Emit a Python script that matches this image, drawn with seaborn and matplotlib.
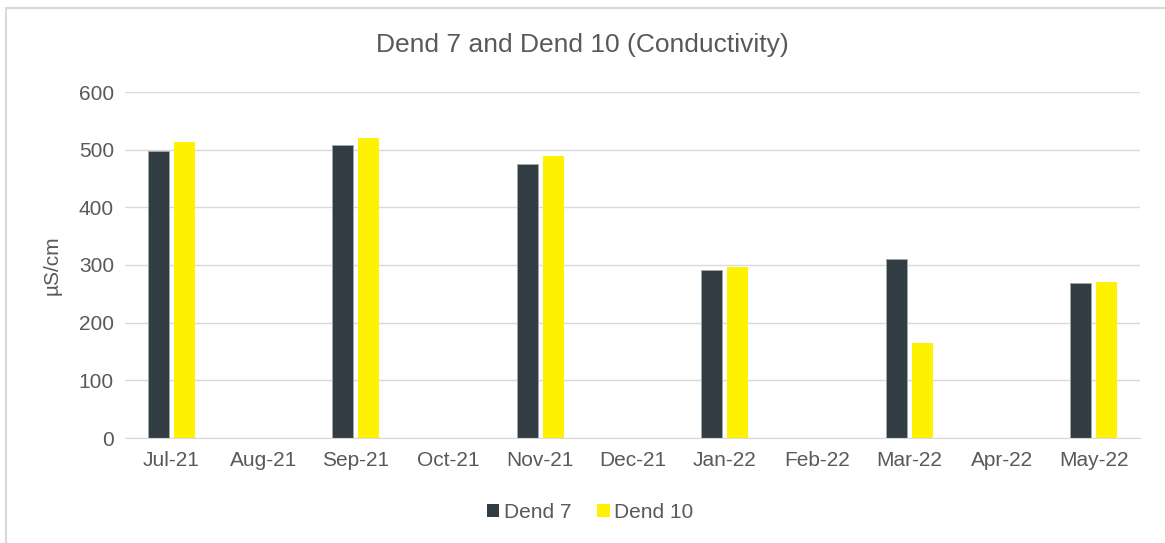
import numpy as np
import pandas as pd
import seaborn as sns
import matplotlib.pyplot as plt
from matplotlib.patches import Rectangle

# datos (NaN = sin medicion)
meses = ["Jul-21", "Aug-21", "Sep-21", "Oct-21", "Nov-21", "Dec-21",
         "Jan-22", "Feb-22", "Mar-22", "Apr-22", "May-22"]
dend7 = [498, np.nan, 508, np.nan, 476, np.nan, 291, np.nan, 310, np.nan, 268]
dend10 = [513, np.nan, 521, np.nan, 489, np.nan, 296, np.nan, 164, np.nan, 271]
series = ["Dend 7", "Dend 10"]
colores = ["#323d43", "#fff200"]

df = pd.DataFrame({"Mes": meses, "Dend 7": dend7, "Dend 10": dend10})
df_largo = df.melt(id_vars="Mes", var_name="Serie", value_name="Valor")

sns.set_style("white")
plt.rcParams["font.family"] = ["Liberation Sans", "DejaVu Sans"]
gris = "#595959"

fig = plt.figure(figsize=(11.65, 5.43), dpi=100)
fig.patches.append(Rectangle((6 / 1165, -0.1), 1.2, 1 - 8 / 543 + 0.1,
                             transform=fig.transFigure, fill=False,
                             edgecolor="#d9d9d9", linewidth=1.5))
ax = fig.add_axes([125 / 1165, 1 - 438 / 543, 1015 / 1165, 346 / 543])

sns.barplot(data=df_largo, x="Mes", y="Valor", hue="Serie", order=meses,
            hue_order=series, palette=colores, saturation=1,
            width=0.563, gap=0.19, edgecolor="#a0a8ad", linewidth=0.6,
            ax=ax, legend=True)
# barras amarillas sin borde
for p in ax.patches:
    if p.get_facecolor()[2] < 0.1:
        p.set_edgecolor("none")

ax.set_ylim(0, 600)
ax.set_yticks(range(0, 601, 100))
ax.yaxis.grid(True, color="#d9d9d9", linewidth=1)
ax.set_axisbelow(True)
for s in ["top", "right", "left"]:
    ax.spines[s].set_visible(False)
ax.spines["bottom"].set_color("#d9d9d9")
ax.tick_params(axis="both", colors=gris, labelsize=15, length=0, pad=8)
ax.tick_params(axis="x", pad=9)
ax.set_xlabel("")
ax.set_ylabel("µS/cm", color=gris, fontsize=15, labelpad=12)
ax.set_xlim(-0.5, len(meses) - 0.5)

fig.text(0.5, 1 - 45 / 543, "Dend 7 and Dend 10 (Conductivity)", ha="center",
         va="center", fontsize=19, color=gris)

handles, labels = ax.get_legend_handles_labels()
for h in handles:
    h.set_edgecolor("none")
ax.legend(handles, labels, loc="center", bbox_to_anchor=(590 / 1165, 1 - 512 / 543),
          bbox_transform=fig.transFigure, ncol=2, frameon=False, fontsize=15,
          labelcolor=gris, handlelength=0.6, handleheight=0.6,
          handletextpad=0.2, columnspacing=1.25)

fig.savefig("out.png", dpi=100)
